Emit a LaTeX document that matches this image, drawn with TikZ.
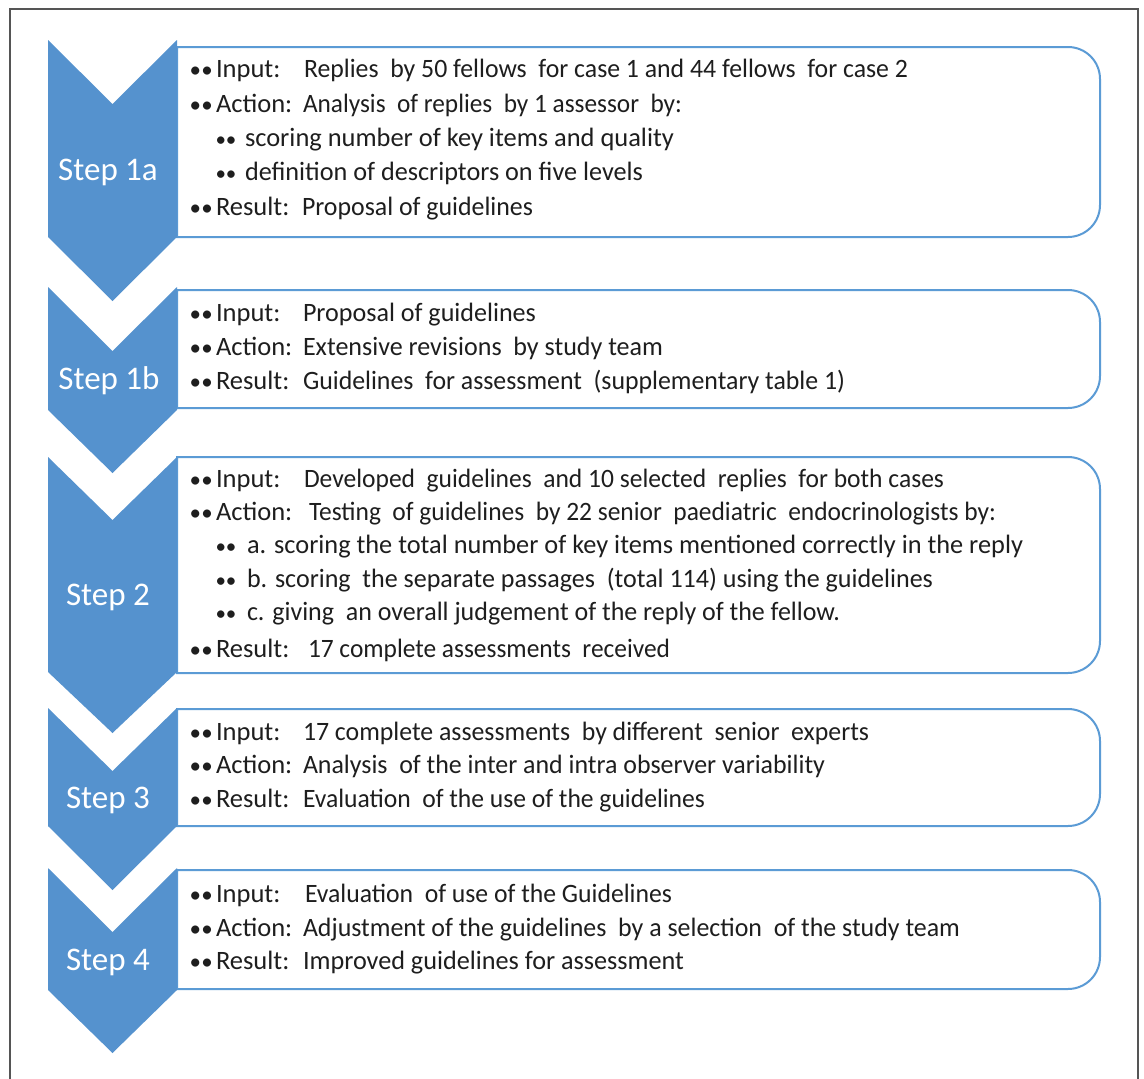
\documentclass[tikz,border=0pt]{standalone}
\usepackage{fontspec}
\setmainfont{Carlito}
\usepackage{graphicx}
\definecolor{chev}{RGB}{85,146,206}
\definecolor{boxc}{RGB}{91,155,213}
\definecolor{txtc}{RGB}{30,30,30}
\definecolor{framec}{RGB}{85,85,85}
\newsavebox\fitbox
\newcommand\fitto[2]{\sbox\fitbox{#2}\pgfmathsetmacro\fitr{(#1)/\wd\fitbox}\scalebox{\fitr}[1]{\usebox\fitbox}}
\newcommand\twobul{{\fontsize{23}{23}\selectfont •\kern0.5pt•}}
% main line: content start, content end, label, content
\newcommand\mline[4]{\makebox[\dimexpr #1pt-189pt\relax][l]{\makebox[27pt][l]{\hspace{0.5pt}\twobul}#3}\fitto{#2-#1}{#4}}
% sub line: content start, content end, content
\newcommand\sline[3]{\makebox[\dimexpr #1pt-215pt\relax][l]{\hspace{0.5pt}{\fontsize{21}{21}\selectfont ••}}\fitto{#2-#1}{#3}}
\begin{document}
\begin{tikzpicture}[x=1pt,y=1pt,
  txtline/.style={anchor=base west, inner sep=0pt, outer sep=0pt, font=\fontsize{26.5}{30}\selectfont, text=txtc},
  steplbl/.style={anchor=base, inner sep=0pt, text=white, font=\fontsize{33}{38}\selectfont},
  boxline/.style={draw=boxc, line width=2pt, fill=white},
  chevron/.style={fill=chev, draw=none}]
\useasboundingbox (0,0) rectangle (1144,-1079);
\fill[white] (0,0) rectangle (1144,-1079);
% outer frame
\draw[framec, line width=1.5pt] (10,-1100) -- (10,-9) -- (1138,-9) -- (1138,-1100);

% boxes: top, bottom
\foreach \t/\b in {47/237, 290/408, 457/673, 709/826, 870/989}{
  \draw[boxline] (177,-\t) -- (1068,-\t) arc[start angle=90,end angle=0,radius=32]
    -- (1100,{-\b+32}) arc[start angle=0,end angle=-90,radius=32] -- (177,-\b) -- cycle;
}
% chevrons: top, notch, straight end, tip
\foreach \t/\n/\s/\p in {40/104/237/301, 287/351/410/473, 457/520/672/733, 708/771/826/890, 868/932/990/1053}{
  \fill[chevron] (48,-\t) -- (112.5,-\n) -- (177,-\t) -- (177,-\s) -- (112.5,-\p) -- (48,-\s) -- cycle;
}

% step labels
\node[steplbl] (s1a) at (108,-180) {Step 1a};
\node[steplbl] (s1b) at (109,-389) {Step 1b};
\node[steplbl] (s2)  at (108,-605) {Step 2};
\node[steplbl] (s3)  at (108,-808) {Step 3};
\node[steplbl] (s4)  at (108,-970) {Step 4};

% box 1
\node[txtline] (b1l1) at (189,-77)  {\mline{304}{908}{Input:}{Replies\ \ by 50 fellows\ \ for case 1 and 44 fellows\ \ for case 2}};
\node[txtline] (b1l2) at (189,-112) {\mline{303}{682}{Action:}{Analysis\ \ of replies\ \ by 1 assessor\ \ by:}};
\node[txtline] (b1l3) at (215,-146) {\sline{245}{674}{scoring number of key items and quality}};
\node[txtline] (b1l4) at (215,-180) {\sline{245}{643}{definition of descriptors on five levels}};
\node[txtline] (b1l5) at (189,-215) {\mline{302}{533}{Result:}{Proposal of guidelines}};

% box 2
\node[txtline] (b2l1) at (189,-321) {\mline{303}{536}{Input:}{Proposal of guidelines}};
\node[txtline] (b2l2) at (189,-355) {\mline{303}{663}{Action:}{Extensive revisions\ \ by study team}};
\node[txtline] (b2l3) at (189,-389) {\mline{303}{845}{Result:}{Guidelines\ \ for assessment\ \ (supplementary table 1)}};

% box 3
\node[txtline] (b3l1) at (189,-487) {\mline{304}{944}{Input:}{Developed\ \ guidelines\ \ and 10 selected\ \ replies\ \ for both cases}};
\node[txtline] (b3l2) at (189,-520) {\mline{309}{996}{Action:}{Testing\ \ of guidelines\ \ by 22 senior\ \ paediatric\ \ endocrinologists by:}};
\node[txtline] (b3l3) at (215,-553) {\sline{247}{1023}{a. scoring the total number of key items mentioned correctly in the reply}};
\node[txtline] (b3l4) at (215,-587) {\sline{247}{933}{b. scoring\ \ the separate passages\ \ (total 114) using the guidelines}};
\node[txtline] (b3l5) at (215,-620) {\sline{247}{840}{c. giving\ \ an overall judgement of the reply of the fellow.}};
\node[txtline] (b3l6) at (189,-657) {\mline{308}{670}{Result:}{17 complete assessments\ \ received}};

% box 4
\node[txtline] (b4l1) at (189,-740) {\mline{303}{869}{Input:}{17 complete assessments\ \ by different\ \ senior\ \ experts}};
\node[txtline] (b4l2) at (189,-773) {\mline{303}{825}{Action:}{Analysis\ \ of the inter and intra observer variability}};
\node[txtline] (b4l3) at (189,-807) {\mline{303}{705}{Result:}{Evaluation\ \ of the use of the guidelines}};

% box 5
\node[txtline] (b5l1) at (189,-902) {\mline{305}{672}{Input:}{Evaluation\ \ of use of the Guidelines}};
\node[txtline] (b5l2) at (189,-936) {\mline{303}{960}{Action:}{Adjustment of the guidelines\ \ by a selection\ \ of the study team}};
\node[txtline] (b5l3) at (189,-969) {\mline{303}{684}{Result:}{Improved guidelines for assessment}};
\end{tikzpicture}
\end{document}
